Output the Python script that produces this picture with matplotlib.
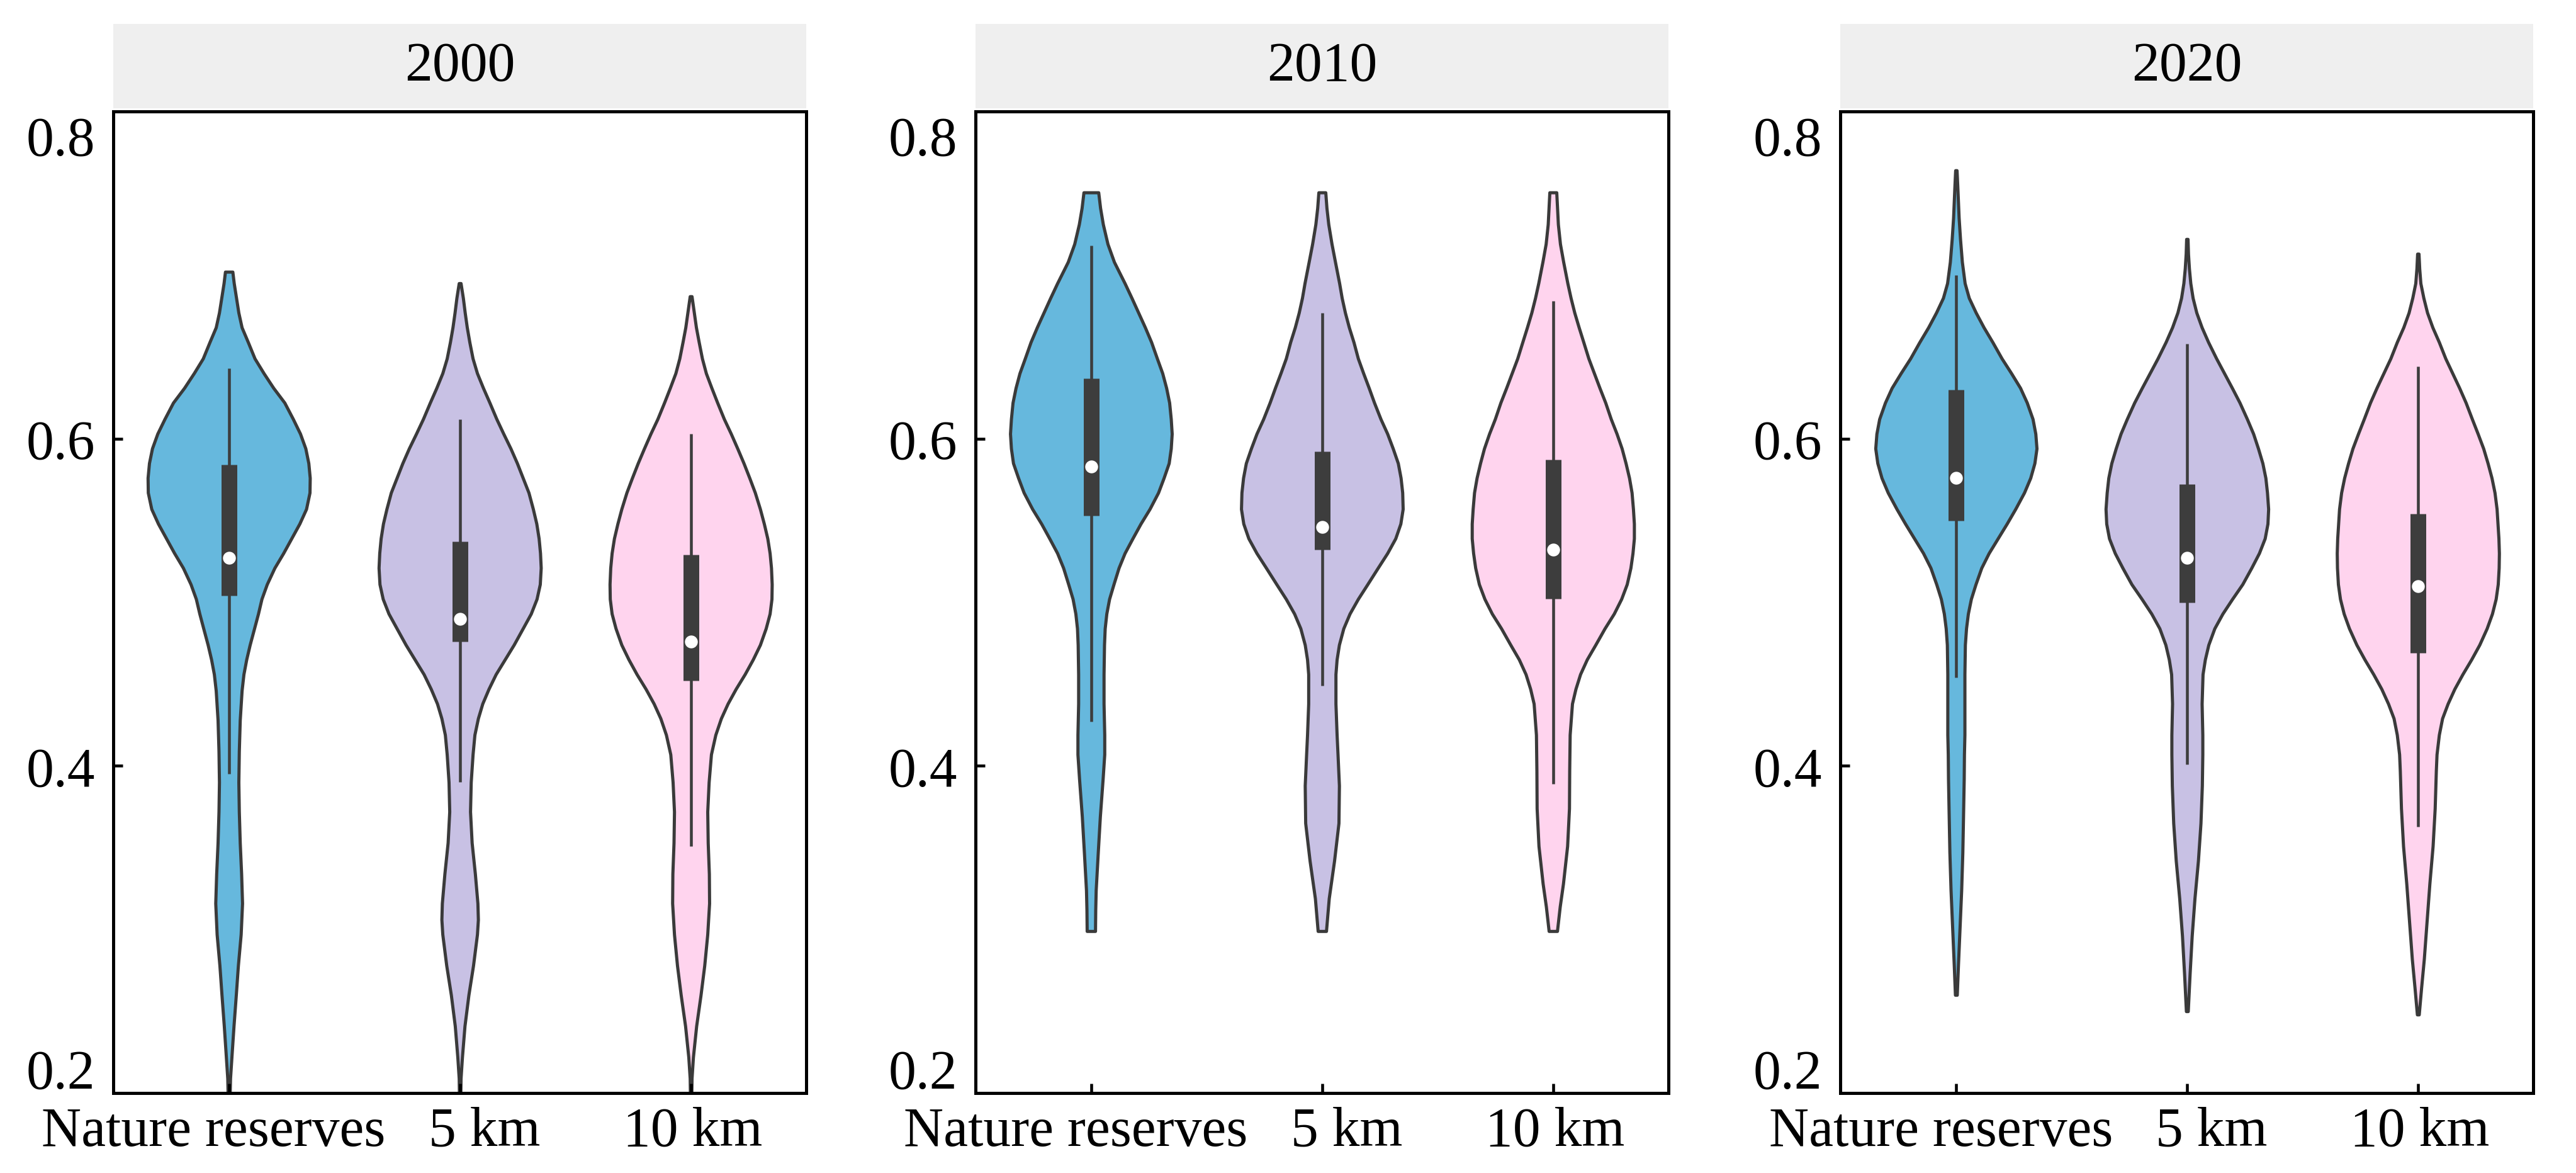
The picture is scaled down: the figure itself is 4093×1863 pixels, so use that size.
import matplotlib.pyplot as plt
import matplotlib.transforms as mtransforms
import numpy as np

plt.rcParams['font.family'] = ['Liberation Serif', 'DejaVu Serif']

years = ['2000', '2010', '2020']
groups = ['Nature reserves', '5 km', '10 km']
colors = ['#66b8dd', '#c8c1e4', '#ffd4ee']

# violin outlines: value levels (bottom -> top) and half widths
y_2000_nr = [0.190, 0.209, 0.222, 0.241, 0.260, 0.278, 0.297, 0.316, 0.334, 0.353, 0.372, 0.390, 0.409, 0.428,
             0.446, 0.456, 0.465, 0.474, 0.484, 0.493, 0.502, 0.511, 0.521, 0.530, 0.539, 0.548, 0.557, 0.567,
             0.576, 0.585, 0.594, 0.603, 0.612, 0.622, 0.631, 0.640, 0.649, 0.659, 0.668, 0.677, 0.686, 0.695, 0.702]
w_2000_nr = [0.003, 0.006, 0.012, 0.021, 0.031, 0.040, 0.052, 0.058, 0.054, 0.048, 0.044, 0.042, 0.044, 0.048,
             0.056, 0.064, 0.076, 0.091, 0.110, 0.127, 0.142, 0.165, 0.198, 0.236, 0.271, 0.306, 0.335, 0.350,
             0.351, 0.345, 0.332, 0.309, 0.278, 0.241, 0.193, 0.151, 0.112, 0.083, 0.056, 0.042, 0.032, 0.022, 0.016]
y_2000_5 = [0.190, 0.209, 0.222, 0.241, 0.260, 0.278, 0.297, 0.306, 0.316, 0.334, 0.353, 0.372, 0.390, 0.407,
            0.419, 0.429, 0.438, 0.447, 0.456, 0.465, 0.474, 0.484, 0.493, 0.502, 0.511, 0.521, 0.530, 0.539,
            0.548, 0.557, 0.567, 0.576, 0.585, 0.594, 0.603, 0.612, 0.622, 0.631, 0.640, 0.649, 0.659, 0.668,
            0.677, 0.686, 0.695]
w_2000_5 = [0.002, 0.004, 0.010, 0.021, 0.038, 0.058, 0.075, 0.079, 0.077, 0.066, 0.052, 0.045, 0.048, 0.056,
            0.064, 0.079, 0.098, 0.125, 0.156, 0.195, 0.234, 0.273, 0.308, 0.333, 0.347, 0.351, 0.348, 0.342,
            0.332, 0.317, 0.298, 0.273, 0.248, 0.220, 0.189, 0.159, 0.129, 0.101, 0.075, 0.056, 0.042, 0.031,
            0.022, 0.014, 0.004]
y_2000_10 = [0.190, 0.209, 0.222, 0.241, 0.260, 0.278, 0.297, 0.316, 0.334, 0.353, 0.372, 0.390, 0.407, 0.419,
             0.429, 0.438, 0.447, 0.456, 0.465, 0.474, 0.484, 0.493, 0.502, 0.511, 0.521, 0.530, 0.539, 0.548,
             0.557, 0.567, 0.576, 0.585, 0.594, 0.603, 0.612, 0.622, 0.631, 0.640, 0.649, 0.659, 0.668, 0.677, 0.687]
w_2000_10 = [0.002, 0.004, 0.010, 0.024, 0.043, 0.059, 0.072, 0.080, 0.079, 0.074, 0.072, 0.078, 0.088, 0.107,
             0.131, 0.160, 0.195, 0.234, 0.269, 0.300, 0.325, 0.342, 0.350, 0.351, 0.348, 0.342, 0.332, 0.317,
             0.300, 0.278, 0.254, 0.229, 0.202, 0.174, 0.144, 0.115, 0.090, 0.066, 0.049, 0.035, 0.023, 0.014, 0.004]

y_2010_nr = [0.299, 0.312, 0.324, 0.347, 0.369, 0.392, 0.407, 0.419, 0.438, 0.456, 0.474, 0.484, 0.493, 0.502,
             0.511, 0.521, 0.530, 0.539, 0.548, 0.557, 0.567, 0.576, 0.585, 0.594, 0.603, 0.612, 0.622, 0.631,
             0.640, 0.649, 0.659, 0.668, 0.677, 0.686, 0.695, 0.708, 0.719, 0.731, 0.741, 0.7505]
w_2010_nr = [0.018, 0.019, 0.021, 0.030, 0.039, 0.051, 0.058, 0.058, 0.055, 0.055, 0.057, 0.060, 0.067, 0.079,
             0.098, 0.120, 0.146, 0.180, 0.215, 0.254, 0.291, 0.315, 0.337, 0.346, 0.350, 0.346, 0.339, 0.326,
             0.309, 0.286, 0.261, 0.234, 0.205, 0.176, 0.146, 0.100, 0.072, 0.052, 0.040, 0.032]
y_2010_5 = [0.299, 0.319, 0.342, 0.365, 0.388, 0.407, 0.419, 0.438, 0.456, 0.465, 0.474, 0.484, 0.493, 0.502,
            0.511, 0.521, 0.530, 0.539, 0.548, 0.557, 0.567, 0.576, 0.585, 0.594, 0.603, 0.612, 0.622, 0.631,
            0.640, 0.649, 0.659, 0.668, 0.677, 0.686, 0.695, 0.708, 0.719, 0.731, 0.741, 0.7505]
w_2010_5 = [0.018, 0.030, 0.053, 0.072, 0.074, 0.068, 0.064, 0.059, 0.059, 0.064, 0.074, 0.093, 0.120, 0.156,
            0.197, 0.242, 0.283, 0.318, 0.340, 0.350, 0.348, 0.341, 0.329, 0.307, 0.283, 0.254, 0.226, 0.203,
            0.179, 0.156, 0.137, 0.117, 0.100, 0.086, 0.075, 0.057, 0.042, 0.028, 0.020, 0.015]
y_2010_10 = [0.299, 0.314, 0.328, 0.351, 0.374, 0.397, 0.419, 0.438, 0.447, 0.456, 0.465, 0.474, 0.484, 0.493,
             0.502, 0.511, 0.521, 0.530, 0.539, 0.548, 0.557, 0.567, 0.576, 0.585, 0.594, 0.603, 0.612, 0.622,
             0.631, 0.640, 0.649, 0.659, 0.668, 0.677, 0.686, 0.695, 0.708, 0.719, 0.731, 0.7505]
w_2010_10 = [0.018, 0.030, 0.044, 0.062, 0.070, 0.071, 0.073, 0.083, 0.098, 0.118, 0.147, 0.184, 0.224, 0.264,
             0.296, 0.320, 0.336, 0.345, 0.351, 0.351, 0.347, 0.341, 0.330, 0.315, 0.298, 0.276, 0.251, 0.227,
             0.202, 0.178, 0.154, 0.132, 0.112, 0.093, 0.077, 0.063, 0.045, 0.031, 0.022, 0.015]

y_2020_nr = [0.260, 0.278, 0.301, 0.324, 0.347, 0.369, 0.392, 0.407, 0.419, 0.438, 0.456, 0.474, 0.484, 0.493,
             0.502, 0.511, 0.521, 0.530, 0.539, 0.548, 0.557, 0.567, 0.576, 0.585, 0.594, 0.603, 0.612, 0.622,
             0.631, 0.640, 0.649, 0.659, 0.668, 0.677, 0.686, 0.695, 0.708, 0.722, 0.735, 0.745, 0.755, 0.764]
w_2020_nr = [0.004, 0.009, 0.016, 0.023, 0.028, 0.031, 0.034, 0.035, 0.037, 0.037, 0.037, 0.039, 0.044, 0.052,
             0.065, 0.085, 0.110, 0.142, 0.181, 0.220, 0.257, 0.295, 0.322, 0.340, 0.349, 0.344, 0.332, 0.307,
             0.278, 0.239, 0.198, 0.158, 0.120, 0.086, 0.056, 0.038, 0.026, 0.018, 0.012, 0.009, 0.006, 0.003]
y_2020_5 = [0.250, 0.273, 0.296, 0.319, 0.342, 0.365, 0.388, 0.407, 0.419, 0.438, 0.456, 0.465, 0.474, 0.484,
            0.493, 0.502, 0.511, 0.521, 0.530, 0.539, 0.548, 0.557, 0.567, 0.576, 0.585, 0.594, 0.603, 0.612,
            0.622, 0.631, 0.640, 0.649, 0.659, 0.668, 0.677, 0.686, 0.695, 0.704, 0.713, 0.722]
w_2020_5 = [0.004, 0.012, 0.021, 0.033, 0.048, 0.059, 0.065, 0.067, 0.067, 0.064, 0.068, 0.078, 0.093, 0.119,
            0.154, 0.196, 0.240, 0.279, 0.312, 0.337, 0.349, 0.352, 0.347, 0.340, 0.327, 0.308, 0.287, 0.260,
            0.228, 0.195, 0.161, 0.127, 0.092, 0.064, 0.041, 0.025, 0.015, 0.009, 0.005, 0.003]
y_2020_10 = [0.248, 0.264, 0.282, 0.305, 0.328, 0.351, 0.374, 0.397, 0.407, 0.419, 0.429, 0.438, 0.447, 0.456,
             0.465, 0.474, 0.484, 0.493, 0.502, 0.511, 0.521, 0.530, 0.539, 0.548, 0.557, 0.567, 0.576, 0.585,
             0.594, 0.603, 0.612, 0.622, 0.631, 0.640, 0.649, 0.659, 0.668, 0.677, 0.686, 0.695, 0.704, 0.713]
w_2020_10 = [0.004, 0.014, 0.026, 0.038, 0.050, 0.064, 0.073, 0.078, 0.081, 0.091, 0.105, 0.129, 0.158, 0.193,
             0.231, 0.266, 0.298, 0.321, 0.337, 0.346, 0.350, 0.351, 0.349, 0.345, 0.341, 0.332, 0.319, 0.302,
             0.283, 0.259, 0.234, 0.207, 0.179, 0.149, 0.119, 0.091, 0.063, 0.040, 0.024, 0.011, 0.006, 0.003]

# inner box: whisker low, q1, median, q3, whisker high
box_2000 = [[0.395, 0.504, 0.527, 0.584, 0.643], [0.390, 0.476, 0.490, 0.537, 0.612], [0.351, 0.452, 0.476, 0.529, 0.603]]
box_2010 = [[0.427, 0.553, 0.583, 0.637, 0.718], [0.449, 0.532, 0.546, 0.592, 0.677], [0.389, 0.502, 0.532, 0.587, 0.684]]
box_2020 = [[0.454, 0.550, 0.576, 0.630, 0.700], [0.401, 0.500, 0.527, 0.572, 0.658], [0.363, 0.469, 0.510, 0.554, 0.644]]

outlines = {
    '2000': [(y_2000_nr, w_2000_nr), (y_2000_5, w_2000_5), (y_2000_10, w_2000_10)],
    '2010': [(y_2010_nr, w_2010_nr), (y_2010_5, w_2010_5), (y_2010_10, w_2010_10)],
    '2020': [(y_2020_nr, w_2020_nr), (y_2020_5, w_2020_5), (y_2020_10, w_2020_10)],
}
boxes = {'2000': box_2000, '2010': box_2010, '2020': box_2020}

fig = plt.figure(figsize=(4093 / 300, 1864 / 300), dpi=300)
lefts = [0.044, 0.3787, 0.7145]
width = 0.269
bottom, height = 0.0681, 0.8364
# x label shifts seen in the original (inches)
label_shift = [-0.08, 0.13, 0.01]

for left, year in zip(lefts, years):
    ax = fig.add_axes([left, bottom, width, height])
    pos = np.arange(len(groups))
    stats = []
    for (yy, ww), b in zip(outlines[year], boxes[year]):
        stats.append(dict(coords=np.array(yy), vals=np.array(ww), mean=b[2], median=b[2],
                          min=yy[0], max=yy[-1]))
    widths = [2 * max(ww) for yy, ww in outlines[year]]
    parts = ax.violin(stats, positions=pos, widths=widths,
                      showmeans=False, showextrema=False, showmedians=False)
    for body, c in zip(parts['bodies'], colors):
        body.set_facecolor(c)
        body.set_edgecolor('#3a3a3a')
        body.set_linewidth(1.2)
        body.set_alpha(1)

    for p, b in zip(pos, boxes[year]):
        ax.plot([p, p], [b[0], b[4]], color='#3d3d3d', lw=1.1, solid_capstyle='butt', zorder=3)
        ax.plot([p, p], [b[1], b[3]], color='#3d3d3d', lw=6.0, solid_capstyle='butt', zorder=3)
        ax.scatter([p], [b[2]], s=24, color='white', zorder=4, linewidths=0)

    ax.set_xlim(-0.5, 2.5)
    ax.set_ylim(0.2, 0.8)
    ax.set_xticks(pos)
    ax.set_xticklabels(groups)
    ax.set_yticks([0.2, 0.4, 0.6, 0.8])
    ax.set_yticklabels(['0.2', '0.4', '0.6', '0.8'])
    ax.tick_params(axis='both', direction='in', length=3.7, width=1.1, labelsize=21, colors='black')
    ax.tick_params(axis='x', pad=5)
    ax.tick_params(axis='y', pad=7)
    labs = ax.get_yticklabels()
    labs[0].set_va('bottom')
    labs[0].set_transform(labs[0].get_transform() + mtransforms.ScaledTranslation(0, -0.035, fig.dpi_scale_trans))
    labs[-1].set_va('top')
    labs[-1].set_transform(labs[-1].get_transform() + mtransforms.ScaledTranslation(0, -0.022, fig.dpi_scale_trans))
    for lab, dx in zip(ax.get_xticklabels(), label_shift):
        lab.set_transform(lab.get_transform() + mtransforms.ScaledTranslation(dx, 0, fig.dpi_scale_trans))
    for s in ax.spines.values():
        s.set_linewidth(1.2)
        s.set_color('black')

    strip = fig.add_axes([left, 0.907, width, 0.072])
    strip.set_facecolor('#efefef')
    for s in strip.spines.values():
        s.set_visible(False)
    strip.set_xticks([])
    strip.set_yticks([])
    strip.text(0.5, 0.5, year, ha='center', va='center', fontsize=21, transform=strip.transAxes)

fig.savefig('out.png', dpi=300)
